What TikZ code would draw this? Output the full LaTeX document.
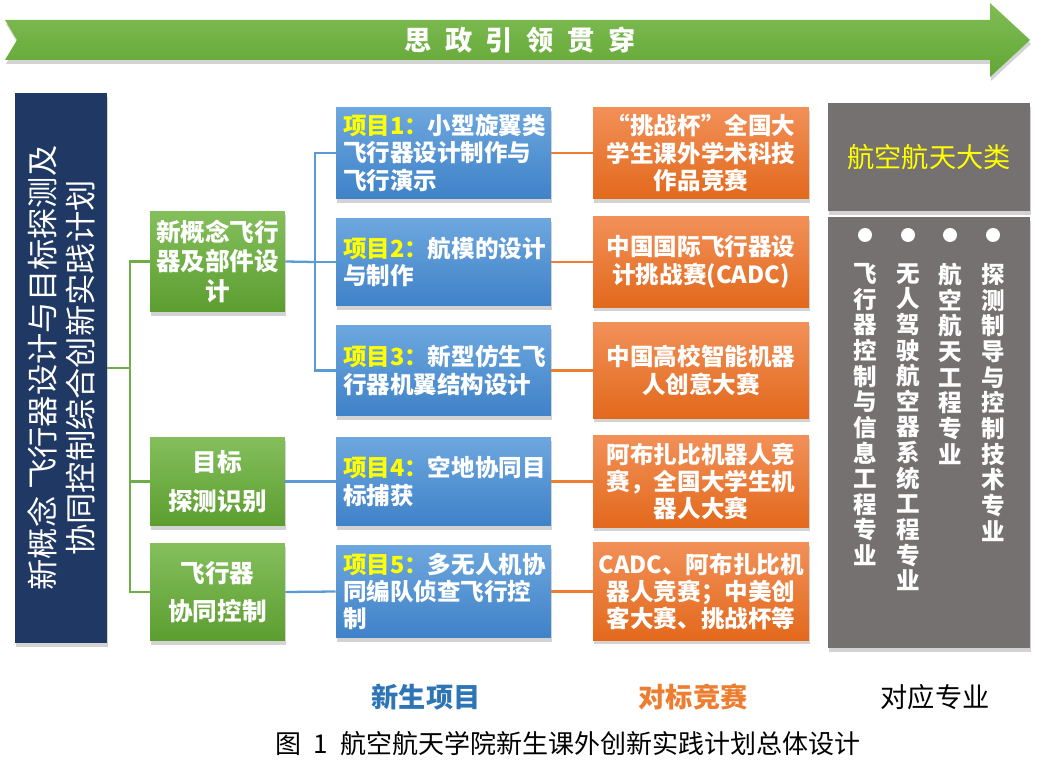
\documentclass[tikz,border=0pt]{standalone}
\usepackage{fontspec}
\setmainfont{Noto Sans CJK SC}
\usepackage{xcolor}
\definecolor{navy}{HTML}{203864}
\definecolor{greentop}{HTML}{84BF5C}
\definecolor{greenbot}{HTML}{5C9D30}
\definecolor{bluetop}{HTML}{6DA7DE}
\definecolor{bluebot}{HTML}{3F82C8}
\definecolor{orangetop}{HTML}{F29058}
\definecolor{orangebot}{HTML}{E2691C}
\definecolor{slate}{HTML}{767171}
\definecolor{bannertop}{HTML}{80BD55}
\definecolor{bannerbot}{HTML}{62A634}
\definecolor{greenline}{HTML}{70AD47}
\definecolor{blueline}{HTML}{5B9BD5}
\definecolor{orangeline}{HTML}{ED7D31}
\definecolor{tagyellow}{HTML}{FFFF00}
\definecolor{labelblue}{HTML}{2E75B6}
\usepackage{tikz}
\usetikzlibrary{positioning, shadows}

\newcommand{\projtag}[1]{\textcolor{tagyellow}{#1}}

\begin{document}
\begin{tikzpicture}[
  x=0.02cm, y=-0.02cm,
  every node/.style={align=center, inner sep=0pt},
  softshadow/.style={drop shadow={shadow xshift=0.6pt, shadow yshift=-2.2pt, opacity=0.35}},
  boxfont/.style={font=\fontsize{13.4}{15.6}\selectfont\bfseries, text=white},
  greenbox/.style={softshadow, top color=greentop, bottom color=greenbot,
    minimum width=2.7cm, text=white, font=\fontsize{14}{17}\selectfont\bfseries},
  bluebox/.style={softshadow, top color=bluetop, bottom color=bluebot, boxfont,
    text width=4.02cm, inner xsep=0.14cm, align=left},
  orangebox/.style={softshadow, top color=orangetop, bottom color=orangebot, boxfont,
    minimum width=4.32cm},
  graybox/.style={softshadow, fill=slate, minimum width=4.04cm},
  coltext/.style={boxfont, anchor=north, font=\fontsize{13.4}{14.6}\selectfont\bfseries},
  linkline/.style={line width=1.3pt}
]
  \useasboundingbox (0,0) rectangle (1043,763);

  % banner arrow across the top
  \shade[top color=bannertop, bottom color=bannerbot, softshadow]
    (5,20) -- (990,20) -- (990,3) -- (1030,40) -- (990,77) -- (990,60)
    -- (5,60) -- (17,40) -- cycle;
  \node[text=white, font=\fontsize{15.5}{18}\selectfont\bfseries] (theme) at (520,40)
    {思\hspace{0.5em}政\hspace{0.5em}引\hspace{0.5em}领\hspace{0.5em}贯\hspace{0.5em}穿};

  % overall plan
  \node[fill=navy, softshadow, minimum width=1.84cm, minimum height=11cm] (plan) at (61,368) {};
  \node[rotate=90, text=white, font=\fontsize{17.8}{21.5}\selectfont] (plantext) at (plan.center)
    {新概念\ 飞行器设计与目标探测及\\协同控制综合创新实践计划};

  % directions
  \node[greenbox, minimum height=2.02cm] (g1) at (217.5,261.5) {新概念飞行\\器及部件设\\计};
  \node[greenbox, minimum height=1.78cm] (g2) at (217.5,481.5) {目标\\[5pt]探测识别};
  \node[greenbox, minimum height=1.96cm] (g3) at (217.5,592) {飞行器\\[5pt]协同控制};

  % freshman projects
  \node[bluebox, minimum height=1.84cm] (b1) at (443.5,153)
    {\projtag{项目1：}小型旋翼类\\飞行器设计制作与\\飞行演示};
  \node[bluebox, minimum height=1.76cm] (b2) at (443.5,262)
    {\projtag{项目2：}航模的设计\\与制作};
  \node[bluebox, minimum height=1.82cm] (b3) at (443.5,370.5)
    {\projtag{项目3：}新型仿生飞\\行器机翼结构设计};
  \node[bluebox, minimum height=1.78cm] (b4) at (443.5,481.5)
    {\projtag{项目4：}空地协同目\\标捕获};
  \node[bluebox, minimum height=1.86cm] (b5) at (443.5,591.5)
    {\projtag{项目5：}多无人机协\\同编队侦查飞行控\\制};

  % matching contests
  \node[orangebox, minimum height=1.84cm] (o1) at (701,153)
    {“挑战杯”全国大\\学生课外学术科技\\作品竞赛};
  \node[orangebox, minimum height=1.82cm] (o2) at (701,262)
    {中国国际飞行器设\\计挑战赛(CADC)};
  \node[orangebox, minimum height=1.92cm] (o3) at (701,370.5)
    {中国高校智能机器\\人创意大赛};
  \node[orangebox, minimum height=1.84cm] (o4) at (701,481.5)
    {阿布扎比机器人竞\\赛，全国大学生机\\器人大赛};
  \node[orangebox, minimum height=1.96cm] (o5) at (701,591.5)
    {CADC、阿布扎比机\\器人竞赛；中美创\\客大赛、挑战杯等};

  % majors
  \node[graybox, minimum height=2.16cm, text=tagyellow,
        font=\fontsize{15.5}{18}\selectfont] (field) at (929,157) {航空航天大类};
  \node[graybox, minimum height=8.62cm] (majors) at (929,432.5) {};
  \foreach \mx in {865,908,950,993}
    \fill[white] (\mx,235) circle (0.14cm);
  \node[coltext] (m1) at (865,263) {飞\\行\\器\\控\\制\\与\\信\\息\\工\\程\\专\\业};
  \node[coltext] (m2) at (908,263) {无\\人\\驾\\驶\\航\\空\\器\\系\\统\\工\\程\\专\\业};
  \node[coltext] (m3) at (950,263) {航\\空\\航\\天\\工\\程\\专\\业};
  \node[coltext] (m4) at (993,263) {探\\测\\制\\导\\与\\控\\制\\技\\术\\专\\业};

  % connectors
  \coordinate (gsplit) at (130,368);
  \coordinate (bsplit) at (315,262);
  \draw[greenline, linkline] (plan.east) -- (gsplit);
  \draw[greenline, linkline] (gsplit) |- (g1.west);
  \draw[greenline, linkline] (gsplit) |- (g2.west);
  \draw[greenline, linkline] (gsplit) |- (g3.west);
  \draw[blueline, linkline] (g1.east) -- (bsplit);
  \draw[blueline, linkline] (bsplit) |- (b1.west);
  \draw[blueline, linkline] (bsplit) -- (b2.west);
  \draw[blueline, linkline] (bsplit) |- (b3.west);
  \draw[blueline, linkline] (g2.east) -- (b4.west);
  \draw[blueline, linkline] (g3.east) -- (b5.west);
  \draw[orangeline, linkline] (b1.east) -- (o1.west);
  \draw[orangeline, linkline] (b2.east) -- (o2.west);
  \draw[orangeline, linkline] (b3.east) -- (o3.west);
  \draw[orangeline, linkline] (b4.east) -- (o4.west);
  \draw[orangeline, linkline] (b5.east) -- (o5.west);

  % column captions and figure title
  \node[text=labelblue, font=\fontsize{15.5}{18}\selectfont\bfseries] (cap1) at (426,697) {新生项目};
  \node[text=orangeline, font=\fontsize{15.5}{18}\selectfont\bfseries] (cap2) at (693,697) {对标竞赛};
  \node[font=\fontsize{15.5}{18}\selectfont] (cap3) at (935,697) {对应专业};
  \node[font=\fontsize{14.8}{17}\selectfont] (title) at (568,744)
    {图\hspace{0.45em}1\hspace{0.5em}航空航天学院新生课外创新实践计划总体设计};
\end{tikzpicture}
\end{document}
